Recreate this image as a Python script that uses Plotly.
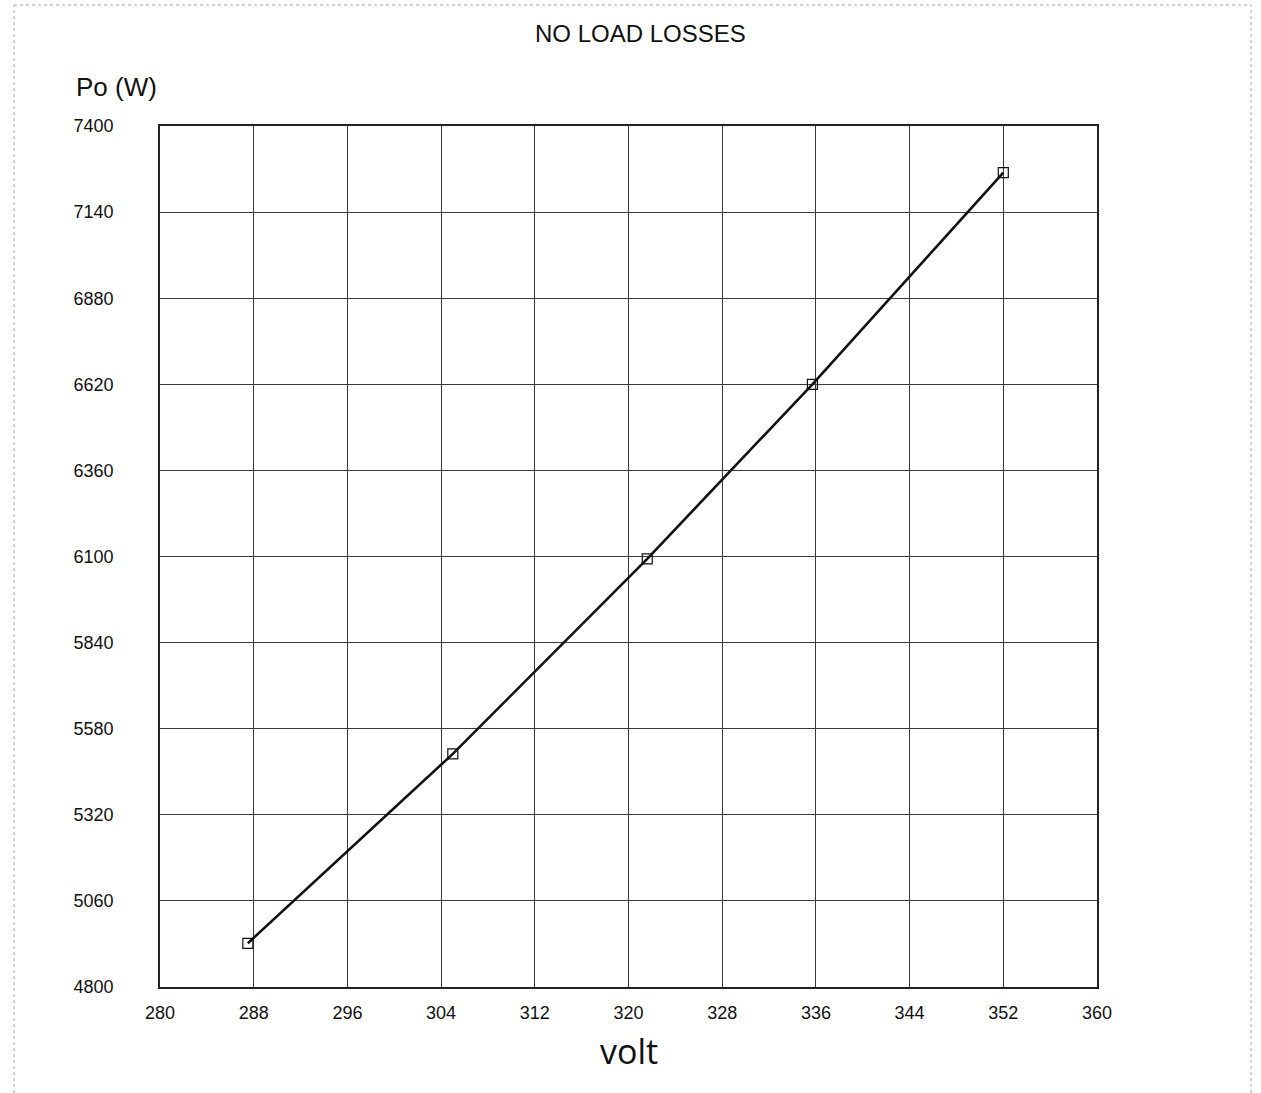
import plotly.graph_objects as go

# Measured no-load losses against applied voltage
voltage = [287.5, 305.0, 321.6, 335.7, 352.0]
losses_w = [4932, 5504, 6093, 6620, 7259]

x_ticks = [280, 288, 296, 304, 312, 320, 328, 336, 344, 352, 360]
y_ticks = [4800, 5060, 5320, 5580, 5840, 6100, 6360, 6620, 6880, 7140, 7400]

fig = go.Figure()
fig.add_trace(go.Scatter(
    x=voltage, y=losses_w,
    mode="lines+markers",
    line=dict(color="#111111", width=2.6),
    marker=dict(symbol="square-open", size=10, color="#111111",
                line=dict(width=1.2, color="#111111")),
    showlegend=False,
))

axis_font = dict(family="Liberation Sans, Arial, sans-serif", size=18, color="#111111")

fig.update_xaxes(
    range=[280, 360], tickvals=x_ticks, ticktext=[str(v) for v in x_ticks],
    showgrid=True, gridcolor="#3a3a3a", gridwidth=1.4,
    showline=True, linecolor="#222222", linewidth=1.6, mirror=True,
    zeroline=False, ticks="", ticklabelstandoff=9, tickfont=axis_font,
)
fig.update_yaxes(
    range=[4800, 7400], tickvals=y_ticks, ticktext=[str(v) for v in y_ticks],
    showgrid=True, gridcolor="#3a3a3a", gridwidth=1.4,
    showline=True, linecolor="#222222", linewidth=1.6, mirror=True,
    zeroline=False, ticks="", ticklabelstandoff=41, tickfont=axis_font,
)

# thin dotted page frame
frame = dict(color="#c4c4c4", width=1.5, dash="dot")
fx0, fx1, fy1 = -0.1558, 1.1644, 1.1405

fig.update_layout(
    width=1261, height=1093,
    margin=dict(l=160, r=164, t=126, b=106),
    paper_bgcolor="white", plot_bgcolor="white",
    annotations=[
        dict(text="NO LOAD LOSSES", xref="paper", yref="paper",
             x=0.5, xshift=12, y=1.0, yshift=93, xanchor="center", yanchor="middle",
             showarrow=False,
             font=dict(family="Liberation Sans, Arial, sans-serif", size=24, color="#111111")),
        dict(text="Po (W)", xref="paper", yref="paper",
             x=0, xshift=-44, y=1.0, yshift=39, xanchor="center", yanchor="middle",
             showarrow=False,
             font=dict(family="Liberation Sans, Arial, sans-serif", size=26, color="#111111")),
        dict(text="volt", xref="paper", yref="paper",
             x=0.5, xshift=0, y=0, yshift=-64, xanchor="center", yanchor="middle",
             showarrow=False,
             font=dict(family="Open Sans, sans-serif", size=34, color="#111111")),
    ],
    shapes=[
        dict(type="line", xref="paper", yref="paper", layer="below",
             x0=fx0, x1=fx0, y0=-0.13, y1=fy1, line=frame),
        dict(type="line", xref="paper", yref="paper", layer="below",
             x0=fx0, x1=fx1, y0=fy1, y1=fy1, line=frame),
        dict(type="line", xref="paper", yref="paper", layer="below",
             x0=fx1, x1=fx1, y0=-0.13, y1=fy1, line=frame),
    ],
)

fig.write_html("out.html")
